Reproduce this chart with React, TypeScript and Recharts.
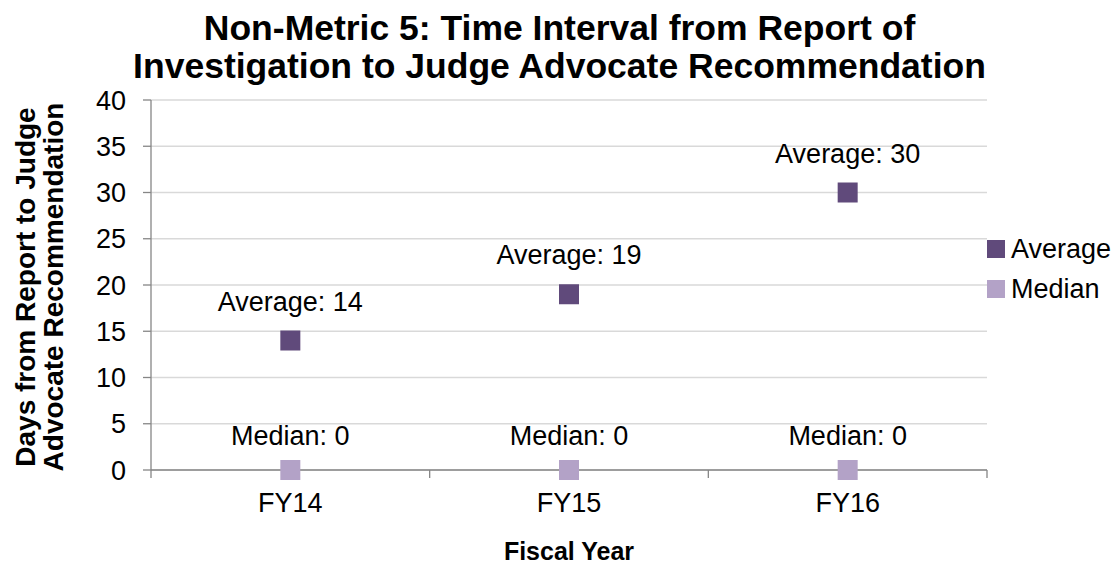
import React from 'react';
import { ComposedChart, Line, XAxis, YAxis, CartesianGrid, Legend, Label } from 'recharts';

const years = ['FY14', 'FY15', 'FY16'];
const averageValues = [14, 19, 30];
const medianValues = [0, 0, 0];
const yTicks = [0, 5, 10, 15, 20, 25, 30, 35, 40];

const AVG_COLOR = '#604A7B';
const MED_COLOR = '#B3A2C7';
const AXIS_COLOR = '#868686';
const FONT = '"Liberation Sans", Arial, sans-serif';
const FS = 27;
const X_TICK_SIZE = 8;
const X_TICK_MARGIN = 15;

const seriesColors: Record<string, string> = { Average: AVG_COLOR, Median: MED_COLOR };

const data = years.map((year, i) => ({ year, average: averageValues[i], median: medianValues[i] }));

const makeDot = (color: string, prefix: string, labelGap: number) => (props: any) => {
  const { cx, cy, value, index } = props;
  if (cx == null || cy == null) return <g key={`e-${prefix}-${index}`} />;
  return (
    <g key={`${prefix}-${index}`}>
      <rect x={cx - 10} y={cy - 10} width={20} height={20} fill={color} />
      <text x={cx} y={cy - labelGap} textAnchor="middle" fontSize={FS} fontFamily={FONT} fill="#000">
        {`${prefix}: ${value}`}
      </text>
    </g>
  );
};

const XTick = (props: any) => {
  const { x, y, payload, index, visibleTicksCount } = props;
  const off = payload && payload.offset ? payload.offset : 0;
  const y0 = y - X_TICK_MARGIN - X_TICK_SIZE;
  const y1 = y - X_TICK_MARGIN;
  return (
    <g>
      <line x1={x - off} y1={y0} x2={x - off} y2={y1} stroke={AXIS_COLOR} strokeWidth={1.3} />
      {index === visibleTicksCount - 1 && (
        <line x1={x + off} y1={y0} x2={x + off} y2={y1} stroke={AXIS_COLOR} strokeWidth={1.3} />
      )}
      <text x={x} y={y} dy="0.71em" textAnchor="middle" fontSize={FS} fontFamily={FONT} fill="#000">
        {payload.value}
      </text>
    </g>
  );
};

const YLabel = (props: any) => {
  const vb = props.viewBox || { x: 0, y: 0, width: 0, height: 0 };
  const cy = vb.y + vb.height / 2 + 2;
  const x1 = vb.x + 35;
  const x2 = vb.x + 63;
  return (
    <g>
      <text x={x1} y={cy} transform={`rotate(-90 ${x1} ${cy})`} textAnchor="middle" fontSize={28} fontWeight="bold" fontFamily={FONT} fill="#000">
        Days from Report to Judge
      </text>
      <text x={x2} y={cy} transform={`rotate(-90 ${x2} ${cy})`} textAnchor="middle" fontSize={28} fontWeight="bold" fontFamily={FONT} fill="#000">
        Advocate Recommendation
      </text>
    </g>
  );
};

const LegendContent = (props: any) => {
  const payload = props.payload || [];
  return (
    <div style={{ fontFamily: FONT, fontSize: FS, lineHeight: '30px' }}>
      {payload.map((p: any) => (
        <div key={p.value} style={{ display: 'flex', alignItems: 'center', height: 40 }}>
          <span style={{ display: 'inline-block', width: 18, height: 18, background: seriesColors[p.value], marginRight: 6, flex: '0 0 auto' }} />
          <span style={{ color: '#000' }}>{p.value}</span>
        </div>
      ))}
    </div>
  );
};

export default function App() {
  return (
    <div style={{ position: 'absolute', left: 0, top: 0, width: 1119, height: 566, background: '#fff' }}>
      <div
        style={{
          position: 'absolute',
          left: 0,
          top: 9,
          width: 1119,
          textAlign: 'center',
          fontFamily: FONT,
          fontWeight: 'bold',
          fontSize: 35.5,
          lineHeight: '38px',
          color: '#000',
          zIndex: 2,
        }}
      >
        <div>Non-Metric 5: Time Interval from Report of</div>
        <div>Investigation to Judge Advocate Recommendation</div>
      </div>
      <ComposedChart width={1119} height={566} data={data} margin={{ top: 100, right: 0, bottom: 0, left: 0 }}>
        <CartesianGrid horizontal vertical={false} stroke="#D9D9D9" strokeWidth={1.3} />
        <XAxis
          dataKey="year"
          type="category"
          scale="band"
          height={96}
          tickLine={false}
          tickSize={X_TICK_SIZE}
          tickMargin={X_TICK_MARGIN}
          axisLine={{ stroke: AXIS_COLOR, strokeWidth: 1.3 }}
          tick={XTick}
          interval={0}
        >
          <Label value="Fiscal Year" position="insideBottom" offset={6} style={{ fontSize: 25, fontWeight: 'bold', fill: '#000', fontFamily: FONT }} />
        </XAxis>
        <YAxis
          width={151}
          domain={[0, 40]}
          ticks={yTicks}
          interval={0}
          tickSize={8}
          tickMargin={17}
          tickLine={{ stroke: AXIS_COLOR, strokeWidth: 1.3 }}
          axisLine={{ stroke: AXIS_COLOR, strokeWidth: 1.3 }}
          tick={{ fontSize: FS, fill: '#000', fontFamily: FONT }}
          label={{ content: YLabel }}
        />
        <Legend
          layout="vertical"
          align="right"
          verticalAlign="top"
          content={LegendContent}
          wrapperStyle={{ left: 987, top: 229, width: 132 }}
        />
        <Line
          name="Average"
          dataKey="average"
          stroke="none"
          legendType="square"
          dot={makeDot(AVG_COLOR, 'Average', 30)}
          activeDot={false}
          isAnimationActive={false}
        />
        <Line
          name="Median"
          dataKey="median"
          stroke="none"
          legendType="square"
          dot={makeDot(MED_COLOR, 'Median', 25)}
          activeDot={false}
          isAnimationActive={false}
        />
      </ComposedChart>
    </div>
  );
}
